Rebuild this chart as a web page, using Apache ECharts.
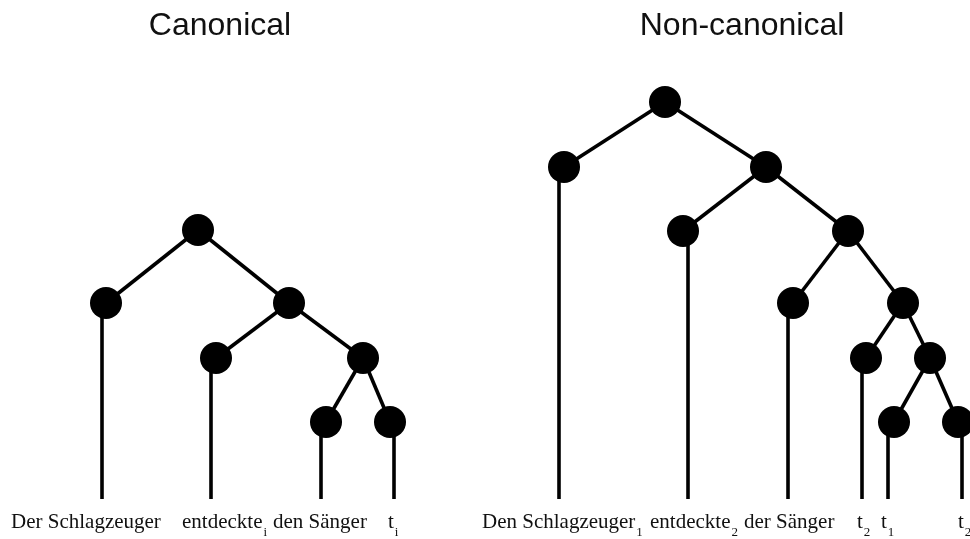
<!DOCTYPE html>
<html>
<head>
<meta charset="utf-8">
<script src="https://cdn.jsdelivr.net/npm/echarts@6/dist/echarts.min.js"></script>
<style>
  html, body { margin: 0; padding: 0; background: #fff; }
  #chart { width: 970px; height: 539px; }
</style>
</head>
<body>
<div id="chart"></div>
<script>
  // tree nodes [x, y] in page units, edges as [parent, child] node indices
  const canonNodes = [[198, 230], [106, 303], [289, 303], [216, 358], [363, 358], [326, 422], [390, 422]];
  const canonEdges = [[0, 1], [0, 2], [2, 3], [2, 4], [4, 5], [4, 6]];
  // stems: [x, top y] going down to the word line
  const canonStems = [[102, 303], [211, 358], [321, 422], [394, 422]];

  const nonNodes = [[665, 102], [564, 167], [766, 167], [683, 231], [848, 231], [793, 303],
    [903, 303], [866, 358], [930, 358], [894, 422], [958, 422]];
  const nonEdges = [[0, 1], [0, 2], [2, 3], [2, 4], [4, 5], [4, 6], [6, 7], [6, 8], [8, 9], [8, 10]];
  const nonStems = [[559, 167], [688, 231], [788, 303], [862, 358], [888, 422], [962, 422]];

  const stemBottom = 499;

  const canonWords = ["Der Schlagzeuger", "entdeckte", "den Sänger", "t"];
  const canonSubs = ["", "i", "", "i"];
  const canonWordX = [11, 182, 273, 388];

  const nonWords = ["Den Schlagzeuger", "entdeckte", "der Sänger", "t", "t", "t"];
  const nonSubs = ["1", "2", "", "2", "1", "2"];
  const nonWordX = [482, 650, 744, 857, 881, 958];

  const wordTop = 512;

  const titles = ["Canonical", "Non-canonical"];
  const titleX = [220, 742];
  const titleY = 26;

  const edgeData = [];
  function addTree(nodes, edges, stems) {
    edges.forEach(([a, b]) => edgeData.push({ coords: [nodes[a], nodes[b]] }));
    stems.forEach(([x, y]) => edgeData.push({ coords: [[x, y], [x, stemBottom]] }));
  }
  addTree(canonNodes, canonEdges, canonStems);
  addTree(nonNodes, nonEdges, nonStems);

  const words = [];
  canonWords.forEach((w, i) => words.push({ value: [canonWordX[i], wordTop], word: w, sub: canonSubs[i] }));
  nonWords.forEach((w, i) => words.push({ value: [nonWordX[i], wordTop], word: w, sub: nonSubs[i] }));

  const serif = '"Liberation Serif", "Times New Roman", serif';
  const richStyle = {
    m: { fontFamily: serif, fontSize: 21, lineHeight: 21, verticalAlign: "top", fill: "#111" },
    s: { fontFamily: serif, fontSize: 13, lineHeight: 13, verticalAlign: "top", padding: [14, 0, 0, 1], fill: "#111" }
  };

  const chart = echarts.init(document.getElementById("chart"), null, { renderer: "canvas" });
  chart.setOption({
    animation: false,
    backgroundColor: "#fff",
    grid: { left: 0, right: 0, top: 0, bottom: 0 },
    xAxis: { type: "value", min: 0, max: 970, show: false },
    yAxis: { type: "value", min: 0, max: 539, inverse: true, show: false },
    series: [
      {
        type: "lines",
        coordinateSystem: "cartesian2d",
        data: edgeData,
        lineStyle: { color: "#000", width: 3.6, opacity: 1 },
        z: 1
      },
      {
        type: "scatter",
        data: canonNodes.concat(nonNodes),
        symbol: "circle",
        symbolSize: 32,
        itemStyle: { color: "#000", opacity: 1 },
        emphasis: { disabled: true },
        clip: false,
        z: 2
      },
      {
        type: "custom",
        data: words,
        renderItem: (params, api) => {
          const item = words[params.dataIndex];
          const p = api.coord([api.value(0), api.value(1)]);
          const text = item.sub ? `{m|${item.word}}{s|${item.sub}}` : `{m|${item.word}}`;
          return {
            type: "text",
            x: p[0],
            y: p[1],
            style: { text, rich: richStyle, align: "left", verticalAlign: "top" }
          };
        },
        z: 3
      },
      {
        type: "custom",
        data: titles.map((t, i) => [titleX[i], titleY]),
        renderItem: (params, api) => {
          const p = api.coord([api.value(0), api.value(1)]);
          return {
            type: "text",
            x: p[0],
            y: p[1],
            style: {
              text: titles[params.dataIndex],
              fontFamily: '"Liberation Sans", Arial, sans-serif',
              fontSize: 32,
              fill: "#111",
              align: "center",
              verticalAlign: "middle"
            }
          };
        },
        z: 3
      }
    ]
  });
</script>
</body>
</html>
